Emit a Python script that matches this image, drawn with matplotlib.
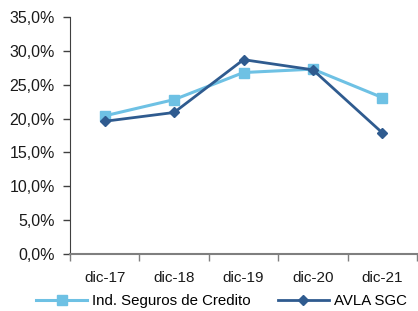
import matplotlib
matplotlib.use("Agg")
import matplotlib.pyplot as plt
from matplotlib.ticker import FuncFormatter, FixedLocator

categories = ["dic-17", "dic-18", "dic-19", "dic-20", "dic-21"]
ind_seguros = [20.4, 22.8, 26.8, 27.3, 23.1]
avla = [19.6, 20.9, 28.7, 27.2, 17.9]

plt.rcParams['font.family'] = ['Liberation Sans', 'DejaVu Sans']

fig = plt.figure(figsize=(4.18, 3.11), dpi=100)
ax = fig.add_axes([70/418, 1 - 254/311, 347/418, 237/311])

x = list(range(len(categories)))
ax.plot(x, ind_seguros, color='#6EC1E4', lw=2.2, marker='s', ms=7, label='Ind. Seguros de Credito')
ax.plot(x, avla, color='#2F5B8F', lw=2.0, marker='D', ms=5, label='AVLA SGC')

ax.set_xlim(-0.5, 4.5)
ax.set_ylim(0, 35)
ax.set_yticks([0, 5, 10, 15, 20, 25, 30, 35])
ax.yaxis.set_major_formatter(FuncFormatter(lambda v, p: f"{v:.1f}".replace('.', ',') + '%'))
ax.set_xticks(x)
ax.set_xticklabels(categories)
ax.xaxis.set_minor_locator(FixedLocator([-0.5, 0.5, 1.5, 2.5, 3.5, 4.5]))
ax.tick_params(axis='x', which='major', length=0, pad=12, labelsize=11, colors='#1a1a1a')
ax.tick_params(axis='x', which='minor', length=5, width=1, color='#7f7f7f')
ax.tick_params(axis='y', length=5, width=1, color='#404040', labelsize=11.5, labelcolor='#1a1a1a', pad=6)
for s in ['top', 'right']:
    ax.spines[s].set_visible(False)
ax.spines['left'].set_color('#404040')
ax.spines['bottom'].set_color('#7f7f7f')
ax.spines['bottom'].set_linewidth(1.5)

fig.legend(loc='center', bbox_to_anchor=(0.53, 0.032), ncol=2, frameon=False,
           fontsize=10.8, handlelength=3.4, columnspacing=1.8, handletextpad=0.35,
           borderpad=0, borderaxespad=0)

fig.savefig('out.png', dpi=100)
